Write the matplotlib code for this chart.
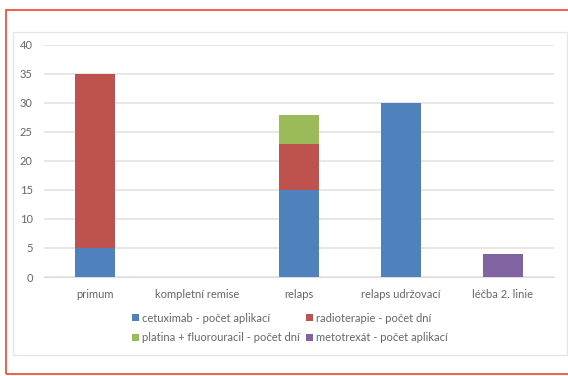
import matplotlib.pyplot as plt
from matplotlib.patches import Rectangle
import numpy as np

plt.rcParams['font.family'] = ['Lato', 'DejaVu Sans']

categories = ["primum", "kompletní remise", "relaps", "relaps udržovací", "léčba 2. linie"]
cetuximab = [5, 0, 15, 30, 0]
radioterapie = [30, 0, 8, 0, 0]
platina = [0, 0, 5, 0, 0]
metotrexat = [0, 0, 0, 0, 4]

series = [
    ("cetuximab - počet aplikací", cetuximab, "#4F81BD"),
    ("radioterapie - počet dní", radioterapie, "#BE524F"),
    ("platina + fluorouracil - počet dní", platina, "#9BBB59"),
    ("metotrexát - počet aplikací", metotrexat, "#8064A2"),
]

fig = plt.figure(figsize=(5.68, 3.76), dpi=100)
W, H = 568, 376

# outer red frame and inner grey chart area
fig.patches.append(Rectangle((6 / W, 1 - 374 / H), 1, (374 - 10) / H, transform=fig.transFigure,
                             fill=False, edgecolor="#F0503A", linewidth=1.3))
fig.patches.append(Rectangle((13 / W, 1 - 355 / H), (567 - 13) / W, (355 - 32) / H, transform=fig.transFigure,
                             fill=False, edgecolor="#E6E6E6", linewidth=1.0))

ax = fig.add_axes([44 / W, 1 - 277 / H, (554 - 44) / W, (277 - 45) / H])
x = np.arange(len(categories))
bottom = np.zeros(len(categories))
for label, vals, color in series:
    ax.bar(x, vals, 0.39, bottom=bottom, color=color, label=label, zorder=3)
    bottom += np.array(vals)

ax.set_xlim(-0.5, len(categories) - 0.5)
ax.set_ylim(0, 40)
ax.set_yticks(range(0, 41, 5))
ax.set_xticks(x)
ax.set_xticklabels(categories)
ax.yaxis.grid(True, color="#E3E3E3", linewidth=1.2, zorder=0)
for s in ["top", "right", "left"]:
    ax.spines[s].set_visible(False)
ax.spines["bottom"].set_color("#DDDDDD")
ax.tick_params(axis="both", length=0, colors="#666666", labelsize=8)
ax.tick_params(axis="x", pad=9)
ax.tick_params(axis="y", pad=8)

# legend fills by column, so reorder to get rows like the original
handles, labels = ax.get_legend_handles_labels()
order = [0, 2, 1, 3]
fig.legend([handles[i] for i in order], [labels[i] for i in order], ncol=2, loc="center",
           bbox_to_anchor=(290 / W, 1 - 328 / H),
           frameon=False, fontsize=8, handlelength=0.6, handleheight=0.6,
           handletextpad=0.3, columnspacing=0.6, labelspacing=0.8, labelcolor="#666666")

fig.savefig("out.png", dpi=100)
